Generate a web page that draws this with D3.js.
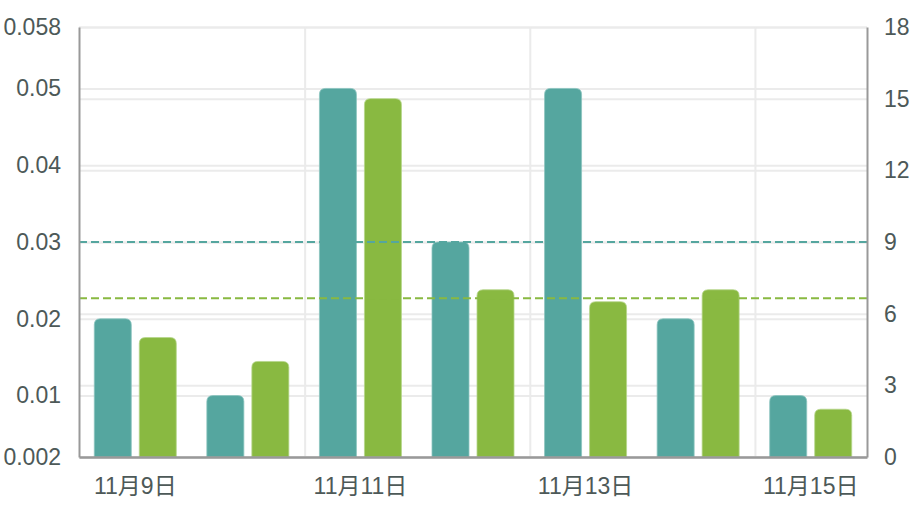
<!DOCTYPE html>
<html>
<head>
<meta charset="utf-8">
<script src="https://d3js.org/d3.v7.min.js"></script>
<style>
body { margin: 0; background: #fff; }
text { font-family: "Liberation Sans", "Noto Sans CJK SC", sans-serif; }
</style>
</head>
<body>
<svg width="922" height="506"></svg>
<script>
var categories = ["11月9日", "11月10日", "11月11日", "11月12日", "11月13日", "11月14日", "11月15日"];
var leftValues = [0.02, 0.01, 0.05, 0.03, 0.05, 0.02, 0.01];
var rightValues = [5, 4, 15, 7, 6.5, 7, 2];
var leftTicks = [0.002, 0.01, 0.02, 0.03, 0.04, 0.05, 0.058];
var rightTicks = [0, 3, 6, 9, 12, 15, 18];
var shownLabels = ["11月9日", "11月11日", "11月13日", "11月15日"];
var leftMarkLine = 0.03;
var rightMarkLine = d3.mean(rightValues);

var svg = d3.select("svg"),
    margin = {top: 27, right: 55, bottom: 49, left: 79},
    width = +svg.attr("width"),
    height = +svg.attr("height");

var teal = "#55a69f", green = "#89b941";

var x = d3.scaleBand()
    .domain(categories)
    .range([margin.left, width - margin.right]);

var yL = d3.scaleLinear()
    .domain([0.002, 0.058])
    .range([height - margin.bottom, margin.top]);

var yR = d3.scaleLinear()
    .domain([0, 18])
    .range([height - margin.bottom, margin.top]);

// horizontal grid for both axes
svg.append("g")
    .attr("transform", "translate(" + margin.left + ",0)")
    .call(d3.axisLeft(yL).tickValues(leftTicks).tickFormat("")
      .tickSize(-(width - margin.left - margin.right)))
    .call(function(g) { g.select(".domain").remove(); })
    .selectAll("line").attr("stroke", "#ebebeb").attr("stroke-width", 2);

svg.append("g")
    .attr("transform", "translate(" + margin.left + ",0)")
    .call(d3.axisLeft(yR).tickValues(rightTicks).tickFormat("")
      .tickSize(-(width - margin.left - margin.right)))
    .call(function(g) { g.select(".domain").remove(); })
    .selectAll("line").attr("stroke", "#ebebeb").attr("stroke-width", 2);

// vertical grid lines every two categories
svg.append("g").selectAll("line")
    .data(categories.filter(function(d, i) { return i % 2 == 0 && i > 0; }))
    .enter().append("line")
    .attr("x1", function(d) { return x(d) + 1; })
    .attr("x2", function(d) { return x(d) + 1; })
    .attr("y1", margin.top)
    .attr("y2", height - margin.bottom)
    .attr("stroke", "#ebebeb")
    .attr("stroke-width", 2);

var barW = 37, gap = 8;

function topRounded(x0, y0, w, h, r) {
  r = Math.min(r, h, w / 2);
  return "M" + x0 + "," + (y0 + h) +
    "V" + (y0 + r) +
    "Q" + x0 + "," + y0 + " " + (x0 + r) + "," + y0 +
    "H" + (x0 + w - r) +
    "Q" + (x0 + w) + "," + y0 + " " + (x0 + w) + "," + (y0 + r) +
    "V" + (y0 + h) + "Z";
}

svg.append("g").selectAll("path")
    .data(leftValues)
    .enter().append("path")
    .attr("fill", teal)
    .attr("stroke", "#8cc4bf").attr("stroke-width", 0.8)
    .attr("d", function(d, i) {
      var cx = x(categories[i]) + x.bandwidth() / 2;
      var top = yL(d);
      return topRounded(cx - gap / 2 - barW, top, barW, yL(0.002) - top, 6);
    });

svg.append("g").selectAll("path")
    .data(rightValues)
    .enter().append("path")
    .attr("fill", green)
    .attr("stroke", "#b5d58a").attr("stroke-width", 0.8)
    .attr("d", function(d, i) {
      var cx = x(categories[i]) + x.bandwidth() / 2;
      var top = yR(d);
      return topRounded(cx + gap / 2, top, barW, yR(0) - top, 6);
    });

// mark lines
svg.append("line")
    .attr("x1", margin.left).attr("x2", width - margin.right)
    .attr("y1", yL(leftMarkLine)).attr("y2", yL(leftMarkLine))
    .attr("stroke", teal).attr("stroke-width", 2)
    .attr("stroke-dasharray", "8,4");

svg.append("line")
    .attr("x1", margin.left).attr("x2", width - margin.right)
    .attr("y1", yR(rightMarkLine)).attr("y2", yR(rightMarkLine))
    .attr("stroke", green).attr("stroke-width", 2)
    .attr("stroke-dasharray", "8,4");

// axes
var axisColor = "#999", textColor = "#4d5958";

svg.append("g")
    .attr("transform", "translate(" + margin.left + ",0)")
    .call(d3.axisLeft(yL).tickValues(leftTicks).tickSize(0).tickPadding(18)
      .tickFormat(function(d) { return String(+d.toFixed(3)); }))
    .call(function(g) {
      g.select(".domain").attr("stroke", axisColor).attr("stroke-width", 2);
      g.selectAll("text").attr("fill", textColor).style("font-size", "23px");
    });

svg.append("g")
    .attr("transform", "translate(" + (width - margin.right) + ",0)")
    .call(d3.axisRight(yR).tickValues(rightTicks).tickSize(0).tickPadding(17))
    .call(function(g) {
      g.select(".domain").attr("stroke", axisColor).attr("stroke-width", 2);
      g.selectAll("text").attr("fill", textColor).style("font-size", "23px");
    });

svg.append("g")
    .attr("transform", "translate(0," + (height - margin.bottom) + ")")
    .call(d3.axisBottom(x).tickSize(0).tickPadding(21)
      .tickFormat(function(d) { return shownLabels.indexOf(d) >= 0 ? d : ""; }))
    .call(function(g) {
      g.select(".domain").attr("stroke", axisColor).attr("stroke-width", 2.5);
      g.selectAll("text").attr("fill", textColor).style("font-size", "23px");
    });
</script>
</body>
</html>
